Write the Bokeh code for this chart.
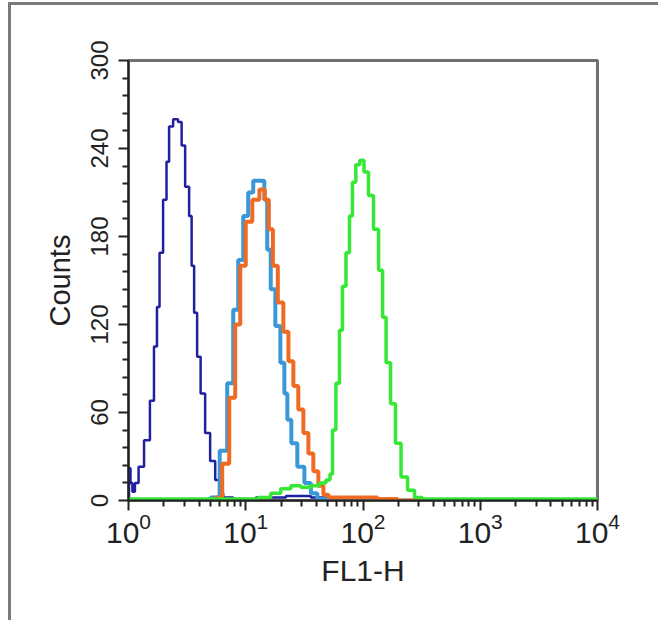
from bokeh.plotting import figure
from bokeh.models import FixedTicker, Range1d
from bokeh.embed import file_html
from bokeh.resources import INLINE

# FL1-H channel values and counts
isotype_x = [1.0, 1.02, 1.06, 1.10, 1.17, 1.27, 1.45, 1.60, 1.70, 1.80, 1.88, 2.07, 2.15, 2.29, 2.52, 2.78, 2.90,
             3.19, 3.39, 3.52, 3.74, 3.96, 4.29, 4.73, 5.22, 5.77, 6.11, 6.75, 9.06, 16.4, 29.5, 43.7, 53.5, 10000]
isotype_y = [2, 22, 12, 6, 12, 23, 41, 68, 105, 132, 169, 205, 231, 255, 260, 258, 242,
             214, 194, 160, 128, 98, 73, 46, 27, 14, 5, 2, 1, 2, 3, 2, 0, 0]

control_x = [4.55, 5.54, 6.49, 7.44, 8.22, 9.06, 10.0, 11.0, 12.2, 14.0, 14.8, 15.7, 17.0, 18.8, 20.7, 22.0,
             23.3, 25.7, 29.5, 33.9, 38.1, 43.7, 53.5, 10000]
control_y = [0, 2, 34, 80, 130, 164, 194, 210, 218, 218, 205, 171, 144, 119, 94, 73,
             55, 39, 23, 12, 5, 1, 0, 0]

second_x = [5.22, 5.88, 6.75, 7.74, 8.54, 9.43, 10.6, 12.2, 14.0, 15.1, 16.4, 17.7, 19.9, 22.0, 24.3, 26.7,
            29.5, 32.6, 35.9, 39.6, 43.7, 48.3, 53.5, 96.1, 184, 211, 10000]
second_y = [0, 2, 25, 70, 120, 160, 190, 205, 212, 205, 185, 160, 135, 115, 95, 78,
            62, 46, 32, 20, 10, 4, 2, 2, 1, 0, 0]

sample_x = [1.0, 11.0, 14.8, 18.0, 22.0, 26.7, 32.6, 39.6, 45.5, 51.2, 53.5, 56.5, 61.1, 64.9, 68.8, 74.5,
            78.9, 83.8, 90.0, 98.0, 106, 117, 129, 143, 151, 164, 180, 199, 224, 257, 295, 347, 10000]
sample_y = [1, 1, 2, 5, 8, 10, 9, 10, 12, 14, 18, 48, 80, 116, 146, 169,
            194, 217, 229, 232, 224, 208, 185, 157, 125, 94, 66, 39, 16, 7, 2, 1, 1]

x_major = [1, 10, 100, 1000, 10000]
y_major = [0, 60, 120, 180, 240, 300]

p = figure(width=650, height=618, x_axis_type="log", output_backend="svg", toolbar_location=None,
           x_range=Range1d(1, 10000), y_range=Range1d(0, 300),
           min_border_left=117, min_border_right=64, min_border_top=55, min_border_bottom=123)
p.styles = {"border-left": "3px solid #7a7a7a", "border-top": "3px solid #7a7a7a",
            "margin-left": "8px", "margin-top": "2px"}

p.xgrid.visible = False
p.ygrid.visible = False
p.background_fill_color = "white"
p.border_fill_color = "white"
p.outline_line_color = "#707070"
p.outline_line_width = 3

p.step(isotype_x, isotype_y, mode="center", line_color="#2020a0", line_width=2.5)
p.step(control_x, control_y, mode="center", line_color="#3b98d8", line_width=4)
p.step(second_x, second_y, mode="center", line_color="#ef6a22", line_width=4)
p.step(sample_x, sample_y, mode="center", line_color="#35e835", line_width=3.5)

x_minor = [m * d for d in [1, 10, 100, 1000] for m in range(2, 10)]
p.xaxis.ticker = FixedTicker(ticks=x_major, minor_ticks=x_minor)
y_minor = [v for v in range(0, 301, 12) if v % 60 != 0]
p.yaxis.ticker = FixedTicker(ticks=y_major, minor_ticks=y_minor)

for ax in (p.xaxis[0], p.yaxis[0]):
    ax.axis_line_color = "#222222"
    ax.axis_line_width = 2
    ax.major_tick_line_color = "#222222"
    ax.minor_tick_line_color = "#222222"
    ax.major_tick_line_width = 2
    ax.minor_tick_line_width = 2
    ax.major_tick_in = 0
    ax.minor_tick_in = 0
    ax.major_tick_out = 10
    ax.minor_tick_out = 6
    ax.major_label_text_font = "Liberation Sans"
    ax.major_label_text_color = "#222222"
    ax.axis_label_text_font = "Liberation Sans"
    ax.axis_label_text_font_style = "normal"
    ax.axis_label_text_color = "#222222"

p.xaxis.axis_label = "FL1-H"
p.xaxis.major_label_text_font_size = "30px"
p.xaxis.axis_label_text_font_size = "30px"
p.xaxis.major_label_standoff = 2
p.xaxis.axis_label_standoff = 8
p.yaxis.axis_label = "Counts"
p.yaxis.major_label_text_font_size = "24px"
p.yaxis.axis_label_text_font_size = "29px"
p.yaxis.major_label_orientation = "vertical"
p.yaxis.major_label_standoff = 11
p.yaxis.axis_label_standoff = 12

open("out.html", "w").write(file_html(p, INLINE))
